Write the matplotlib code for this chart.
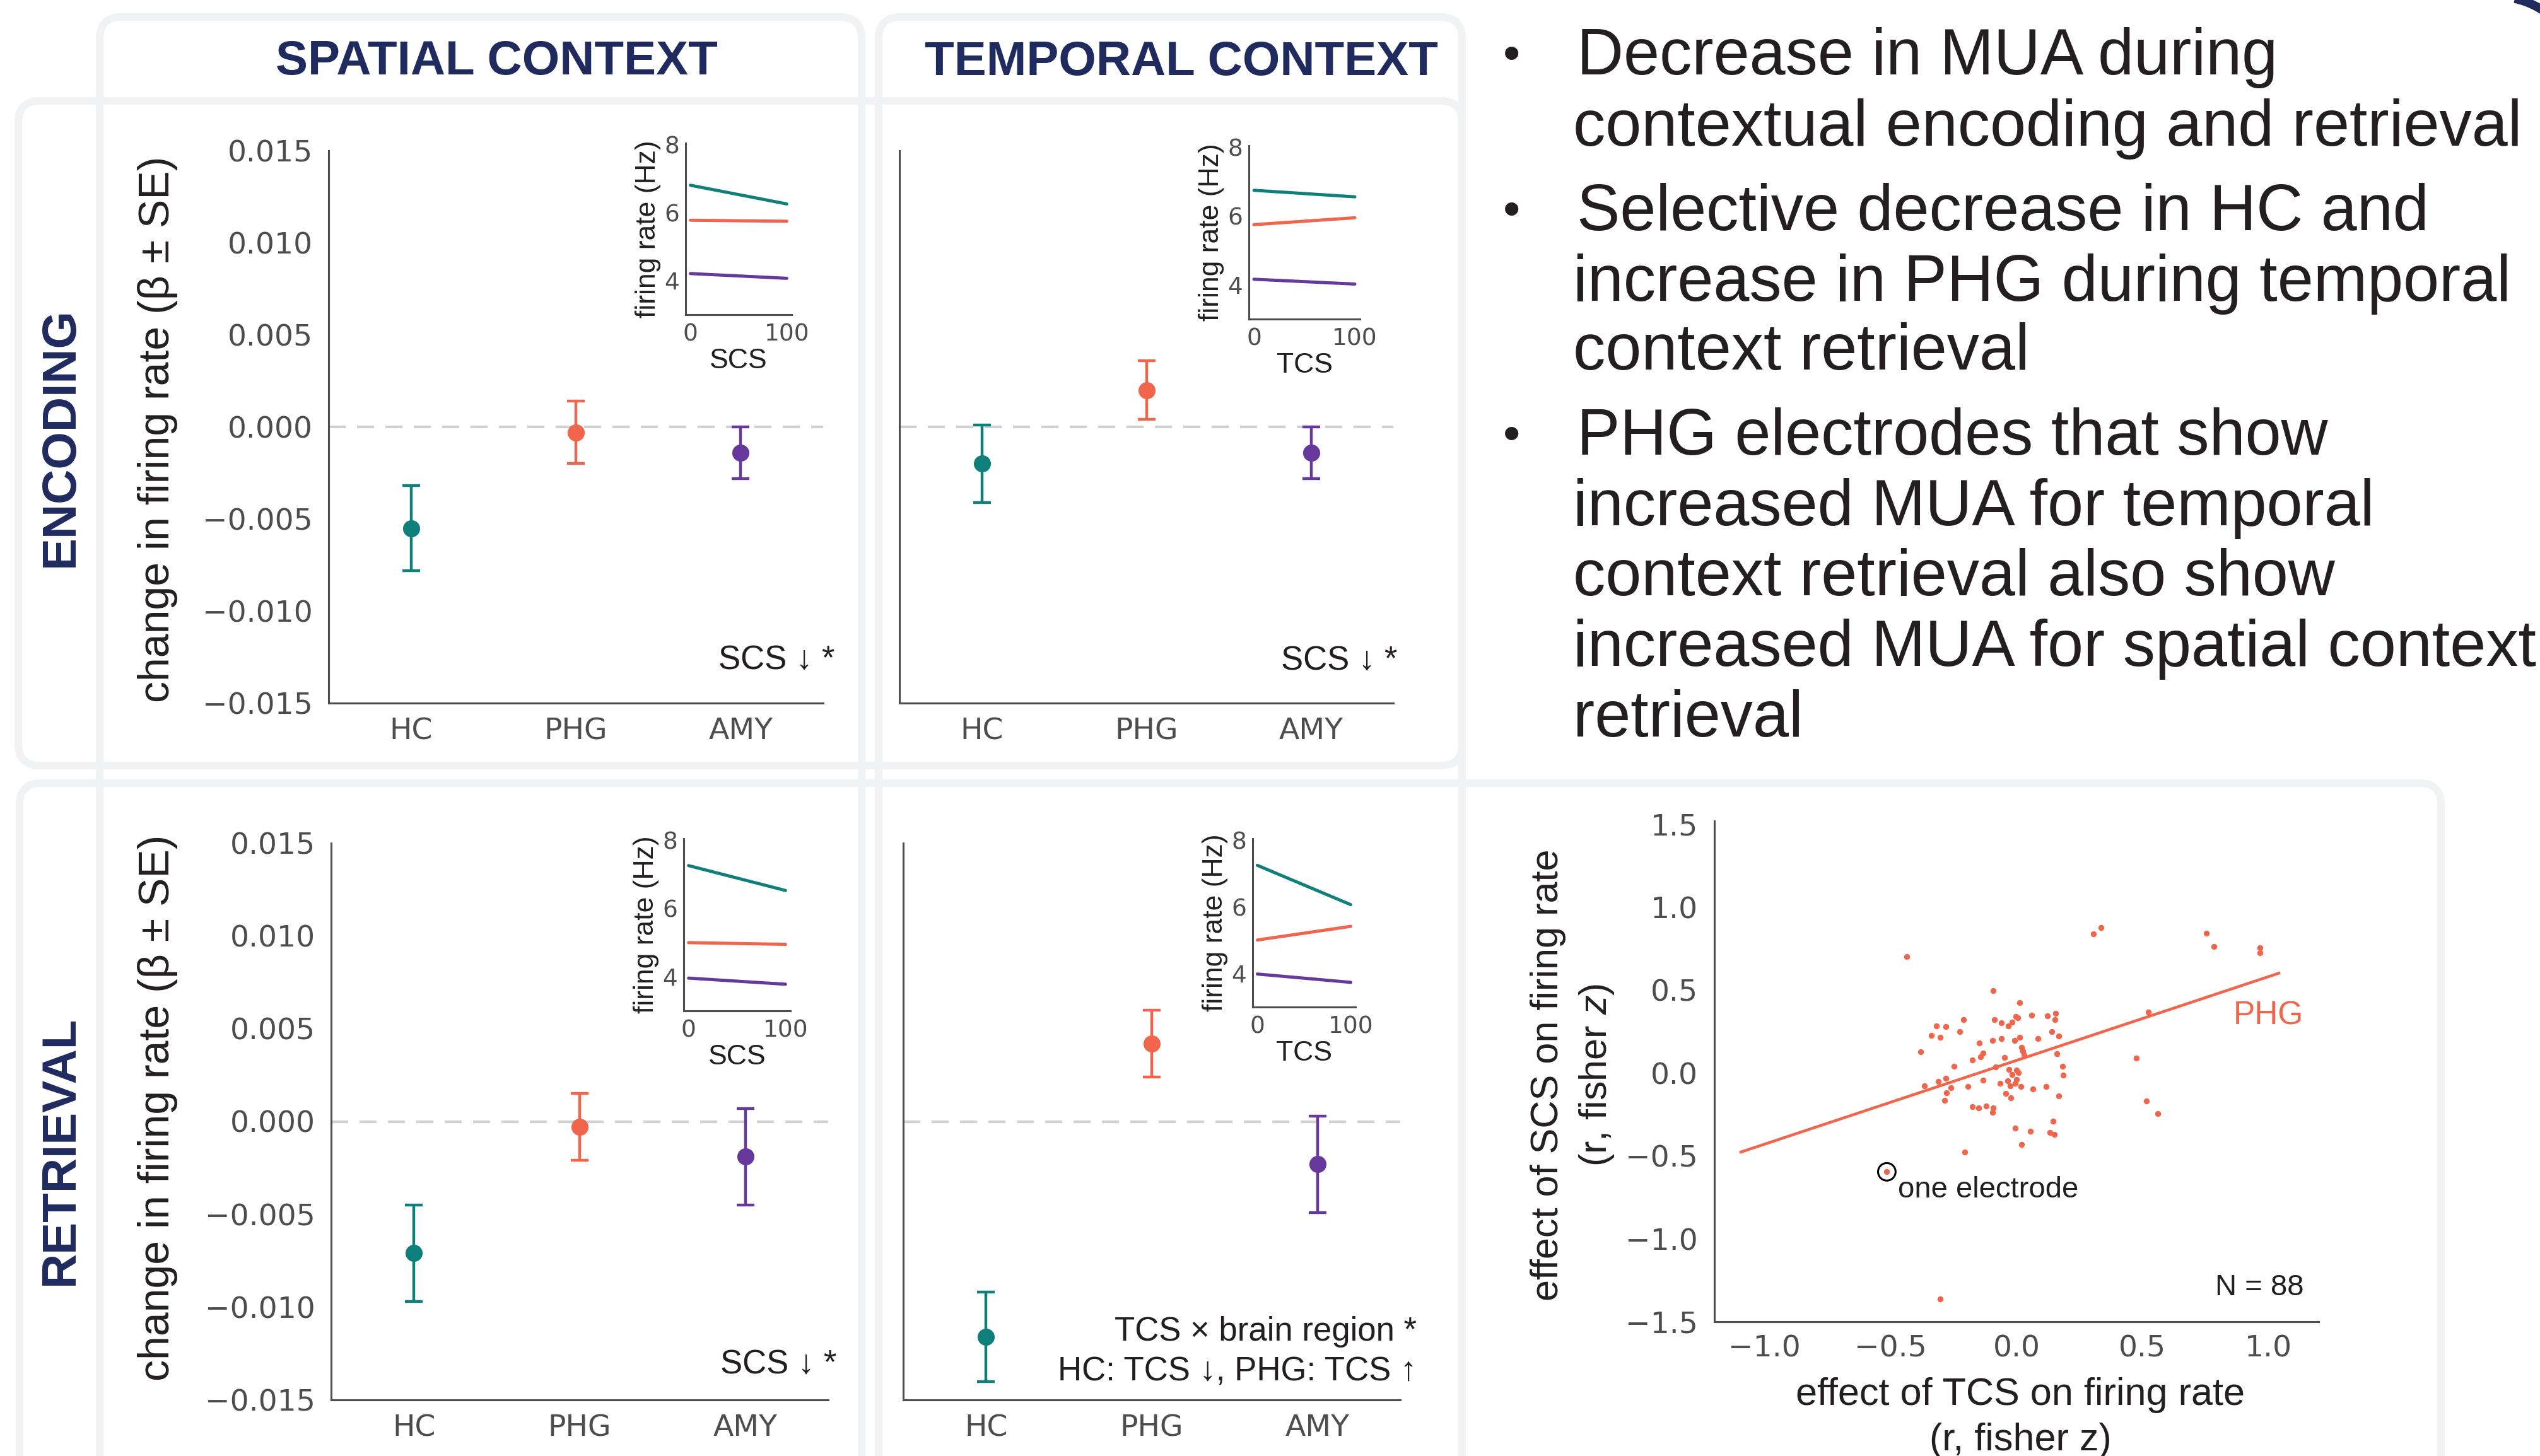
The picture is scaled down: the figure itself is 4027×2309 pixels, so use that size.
import matplotlib
matplotlib.use("Agg")
import matplotlib.pyplot as plt
import matplotlib.font_manager as fm
from matplotlib.patches import FancyBboxPatch, Arc
from matplotlib.transforms import IdentityTransform
from matplotlib.ticker import FuncFormatter

# ---------------- data ----------------
regions = ["HC", "PHG", "AMY"]
region_colors = ["#0f7f7c", "#f0654b", "#66389b"]

# change in firing rate (beta) and SE per region
enc_spatial_beta = [-0.0055, -0.0003, -0.0014]
enc_spatial_se = [0.0023, 0.0017, 0.0014]
enc_temporal_beta = [-0.0020, 0.0020, -0.0014]
enc_temporal_se = [0.0021, 0.0016, 0.0014]
ret_spatial_beta = [-0.0071, -0.0003, -0.0019]
ret_spatial_se = [0.0026, 0.0018, 0.0026]
ret_temporal_beta = [-0.0116, 0.0042, -0.0023]
ret_temporal_se = [0.0024, 0.0018, 0.0026]

# inset: model firing rate (Hz) at score 0 and 100, per region
inset_score = [0, 100]
enc_spatial_fr0 = [6.81, 5.78, 4.21]
enc_spatial_fr100 = [6.26, 5.75, 4.07]
enc_temporal_fr0 = [6.75, 5.75, 4.16]
enc_temporal_fr100 = [6.56, 5.95, 4.02]
ret_spatial_fr0 = [7.26, 5.00, 3.96]
ret_spatial_fr100 = [6.53, 4.95, 3.78]
ret_temporal_fr0 = [7.25, 5.01, 3.99]
ret_temporal_fr100 = [6.07, 5.42, 3.74]

main_yticks = [-0.015, -0.010, -0.005, 0.0, 0.005, 0.010, 0.015]
inset_yticks = [4, 6, 8]

# scatter: PHG electrodes, effect of TCS (x) vs effect of SCS (y)
tcs_effect = [
    -0.436, -0.092, 0.012, -0.210, -0.088, -0.061, -0.018, -0.002, 0.004, -0.032,
    0.059, 0.123, 0.155, 0.154, -0.319, -0.281, -0.338, -0.302, -0.225, 0.141,
    0.168, -0.094, -0.060, -0.007, 0.012, 0.086, -0.148, -0.381, 0.020, 0.026,
    0.031, -0.133, -0.142, -0.048, 0.160, -0.175, -0.248, -0.083, 0.182, -0.029,
    0.000, 0.008, -0.018, 0.185, -0.280, -0.311, -0.366, -0.261, -0.194, -0.133,
    -0.036, 0.001, -0.065, -0.006, -0.024, 0.018, 0.066, 0.117, -0.278, -0.043,
    -0.023, 0.167, -0.285, -0.175, -0.150, -0.120, -0.092, -0.096, 0.475, 0.524,
    0.516, 0.561, 0.146, -0.004, 0.055, 0.133, 0.151, 0.020, -0.205, -0.515,
    0.785, 0.968, 0.967, 0.305, 0.335, 0.755, -0.302,
]
scs_effect = [
    0.704, 0.495, 0.425, 0.323, 0.323, 0.302, 0.307, 0.342, 0.333, 0.282,
    0.347, 0.346, 0.360, 0.321, 0.283, 0.279, 0.226, 0.216, 0.250, 0.250,
    0.222, 0.196, 0.207, 0.197, 0.217, 0.208, 0.181, 0.127, 0.154, 0.132,
    0.107, 0.119, 0.097, 0.093, 0.115, 0.079, 0.041, 0.037, 0.042, 0.022,
    0.018, 0.002, -0.010, -0.014, -0.033, -0.050, -0.077, -0.087, -0.082, -0.044,
    -0.048, -0.038, -0.064, -0.063, -0.077, -0.082, -0.095, -0.083, -0.120, -0.122,
    -0.149, -0.139, -0.166, -0.203, -0.209, -0.200, -0.212, -0.237, 0.089, 0.366,
    -0.169, -0.246, -0.290, -0.334, -0.353, -0.359, -0.369, -0.432, -0.477, -0.596,
    0.763, 0.755, 0.726, 0.839, 0.878, 0.842, -1.364,
]
example_electrode = (-0.515, -0.596)
fit_x = [-1.095, 1.042]
fit_y = [-0.477, 0.602]
scatter_xticks = [-1.0, -0.5, 0.0, 0.5, 1.0]
scatter_yticks = [-1.5, -1.0, -0.5, 0.0, 0.5, 1.0, 1.5]

bullet_lines = [
    (True, "Decrease in MUA during"),
    (False, "contextual encoding and retrieval"),
    (True, "Selective decrease in HC and"),
    (False, "increase in PHG during temporal"),
    (False, "context retrieval"),
    (True, "PHG electrodes that show"),
    (False, "increased MUA for temporal"),
    (False, "context retrieval also show"),
    (False, "increased MUA for spatial context"),
    (False, "retrieval"),
]

# ---------------- style ----------------
W, H = 4027, 2309
NAVY = "#1f2a5f"
INK = "#231f20"
GRAY = "#4d4d4d"
BOX = "#f1f2f4"
SANS = ["Liberation Sans", "DejaVu Sans"]
avail = {f.name for f in fm.fontManager.ttflist}
if "Liberation Sans Narrow" in avail:
    NARROW = ["Liberation Sans Narrow", "Liberation Sans", "DejaVu Sans"]
    NARROW_SIZE = 37
else:
    NARROW = SANS
    NARROW_SIZE = 32

plt.rcParams["font.family"] = ["DejaVu Sans"]
plt.rcParams["axes.unicode_minus"] = True
plt.rcParams["mathtext.fontset"] = "custom"
plt.rcParams["mathtext.it"] = "Liberation Sans:italic"
plt.rcParams["mathtext.rm"] = "Liberation Sans"

fig = plt.figure(figsize=(W / 100, H / 100), dpi=100)
fig.patch.set_facecolor("white")


def P(x, y):
    return (x / W, 1 - y / H)


def rect(x0, y0, x1, y1):
    return [x0 / W, 1 - y1 / H, (x1 - x0) / W, (y1 - y0) / H]


# rounded panel frames (pixel coordinates)
for (x0, y0, x1, y1) in [(158, 27, 1366, 2420), (1393, 27, 2318, 2420),
                         (29, 160, 2318, 1214), (31, 1242, 3870, 2420)]:
    fig.add_artist(FancyBboxPatch((x0, H - y1), x1 - x0, y1 - y0,
                                  boxstyle="round,pad=0,rounding_size=34",
                                  transform=IdentityTransform(), fill=False,
                                  ec=BOX, lw=8.6, zorder=0))

# partial logo ring in the top-right corner
fig.add_artist(Arc((3960, H - 125), 260, 260, theta1=-30, theta2=78,
                   transform=IdentityTransform(), color=NAVY, lw=10, zorder=0))


def style_spines(ax, lw=2.2):
    for s in ["top", "right"]:
        ax.spines[s].set_visible(False)
    for s in ["left", "bottom"]:
        ax.spines[s].set_color(GRAY)
        ax.spines[s].set_linewidth(lw)
    ax.patch.set_alpha(0)


def fmt3(v, p):
    if abs(v) < 1e-12:
        return "0.000"
    return f"{v:.3f}".replace("-", "\u2212")


def main_panel(r, beta, se, show_y):
    ax = fig.add_axes(rect(*r))
    ax.set_xlim(-0.5, 2.5)
    ax.set_ylim(-0.015, 0.015)
    ax.axhline(0, color="#d0d0d0", lw=3, ls=(0, (6.5, 4.3)), zorder=1)
    for i in range(3):
        ax.errorbar(i, beta[i], yerr=se[i], fmt="o", color=region_colors[i],
                    ms=18.5, elinewidth=3.2, capsize=10, capthick=3.2, zorder=3)
    style_spines(ax)
    ax.set_xticks(range(3))
    ax.set_xticklabels(regions)
    ax.set_yticks(main_yticks)
    ax.yaxis.set_major_formatter(FuncFormatter(fmt3))
    ax.tick_params(axis="both", length=0, labelsize=34, labelcolor=GRAY)
    ax.tick_params(axis="x", pad=16)
    ax.tick_params(axis="y", pad=18)
    if not show_y:
        ax.tick_params(axis="y", labelleft=False)
    return ax


def inset_panel(r, fr0, fr100, label):
    ax = fig.add_axes(rect(*r))
    ax.set_xlim(-5, 105)
    ax.set_ylim(3.0, 8.05)
    for i in range(3):
        ax.plot(inset_score, [fr0[i], fr100[i]], color=region_colors[i],
                lw=3.6, solid_capstyle="round")
    style_spines(ax)
    ax.set_xticks(inset_score)
    ax.set_yticks(inset_yticks)
    ax.tick_params(axis="both", length=0, labelsize=27, labelcolor=GRAY)
    ax.tick_params(axis="x", pad=10)
    ax.tick_params(axis="y", pad=7)
    ax.set_xlabel(label, family=NARROW, fontsize=NARROW_SIZE, color=INK)
    ax.set_ylabel("firing rate (Hz)", family=NARROW, fontsize=NARROW_SIZE,
                  color=INK)
    h = r[3] - r[1]
    w = r[2] - r[0]
    ax.xaxis.set_label_coords(0.5, -(552 - 499) / h)
    ax.yaxis.set_label_coords(-(1087 - 1048) / w, 0.5)
    return ax


main_panel((521, 239, 1305, 1115), enc_spatial_beta, enc_spatial_se, True)
main_panel((1426, 239, 2209, 1115), enc_temporal_beta, enc_temporal_se, False)
main_panel((525, 1337, 1313, 2220), ret_spatial_beta, ret_spatial_se, True)
main_panel((1432, 1337, 2220, 2220), ret_temporal_beta, ret_temporal_se, False)

inset_panel((1087, 227, 1255, 499), enc_spatial_fr0, enc_spatial_fr100, "SCS")
inset_panel((1980, 231, 2156, 506), enc_temporal_fr0, enc_temporal_fr100, "TCS")
inset_panel((1084, 1330, 1253, 1603), ret_spatial_fr0, ret_spatial_fr100, "SCS")
inset_panel((1986, 1330, 2149, 1597), ret_temporal_fr0, ret_temporal_fr100, "TCS")

# column / row headers
fig.text(*P(787, 118), "SPATIAL CONTEXT", ha="center", va="baseline",
         family=SANS, weight="bold", fontsize=55, color=NAVY)
fig.text(*P(1873, 119), "TEMPORAL CONTEXT", ha="center", va="baseline",
         family=SANS, weight="bold", fontsize=55, color=NAVY)
fig.text(*P(116, 693), "ENCODING", ha="center", va="baseline", rotation=90,
         rotation_mode="anchor", family=SANS, weight="bold", fontsize=55,
         color=NAVY)
fig.text(*P(116, 1824), "RETRIEVAL", ha="center", va="baseline", rotation=90,
         rotation_mode="anchor", family=SANS, weight="bold", fontsize=55,
         color=NAVY)

# y labels of the main panels
for yc in (681, 1757):
    fig.text(*P(268, yc), "change in firing rate (\u03b2 \u00b1 SE)",
             ha="center", va="baseline", rotation=90, rotation_mode="anchor",
             family=SANS, fontsize=49, color=INK)

# statistics annotations
fig.text(*P(1323, 1061), "SCS \u2193 *", ha="right", va="baseline",
         family=SANS, fontsize=38, color=INK)
fig.text(*P(2215, 1062), "SCS \u2193 *", ha="right", va="baseline",
         family=SANS, fontsize=38, color=INK)
fig.text(*P(1326, 2178), "SCS \u2193 *", ha="right", va="baseline",
         family=SANS, fontsize=38, color=INK)
fig.text(*P(2246, 2126), "TCS \u00d7 brain region *", ha="right",
         va="baseline", family=SANS, fontsize=38, color=INK)
fig.text(*P(2246, 2189), "HC: TCS \u2193, PHG: TCS \u2191", ha="right",
         va="baseline", family=SANS, fontsize=38, color=INK)

# scatter panel
ax = fig.add_axes(rect(2718, 1302, 3676, 2096))
ax.set_xlim(-1.2, 1.2)
ax.set_ylim(-1.49, 1.52)
ax.plot(fit_x, fit_y, color=region_colors[1], lw=3.2, zorder=2)
ax.scatter(tcs_effect, scs_effect, s=46, color=region_colors[1], lw=0, zorder=3)
ax.scatter([example_electrode[0]], [example_electrode[1]], s=400,
           facecolors="none", edgecolors="black", linewidths=2.2, zorder=4)
ax.text(-0.471, -0.704, "one electrode", ha="left", va="center",
        family=SANS, fontsize=34, color=INK)
ax.text(1.0, 0.345, "PHG", ha="center", va="center", family=SANS,
        fontsize=37, color=region_colors[1])
ax.text(1.142, -1.295, "N = 88", ha="right", va="center", family=SANS,
        fontsize=34, color=INK)
style_spines(ax)
ax.set_xticks(scatter_xticks)
ax.set_yticks(scatter_yticks)
ax.tick_params(axis="both", length=0, labelsize=34, labelcolor=GRAY)
ax.tick_params(axis="x", pad=15)
ax.tick_params(axis="y", pad=19)

fig.text(*P(3203, 2228), "effect of TCS on firing rate", ha="center",
         va="baseline", family=SANS, fontsize=44, color=INK)
fig.text(*P(3203, 2300), "(r, fisher z)", ha="center", va="baseline",
         family=SANS, fontsize=44, color=INK)
fig.text(*P(2470, 1705), "effect of SCS on firing rate", ha="center",
         va="baseline", rotation=90, rotation_mode="anchor", family=SANS,
         fontsize=44, color=INK)
fig.text(*P(2547, 1705), "(r, fisher $z$)", ha="center", va="baseline",
         rotation=90, rotation_mode="anchor", family=SANS, fontsize=44,
         color=INK)

# bullet text
baselines = [118, 231, 365, 477, 586, 721, 833, 944, 1056, 1168]
for (is_bullet, line), yb in zip(bullet_lines, baselines):
    if is_bullet:
        fig.text(*P(2397, yb - 8), "\u2022", ha="center", va="baseline",
                 family=SANS, fontsize=56, color=INK)
        fig.text(*P(2500, yb), line, ha="left", va="baseline", family=SANS,
                 fontsize=73.8, color=INK)
    else:
        fig.text(*P(2494, yb), line, ha="left", va="baseline", family=SANS,
                 fontsize=73.8, color=INK)

fig.savefig("out.png", dpi=100, facecolor="white")
